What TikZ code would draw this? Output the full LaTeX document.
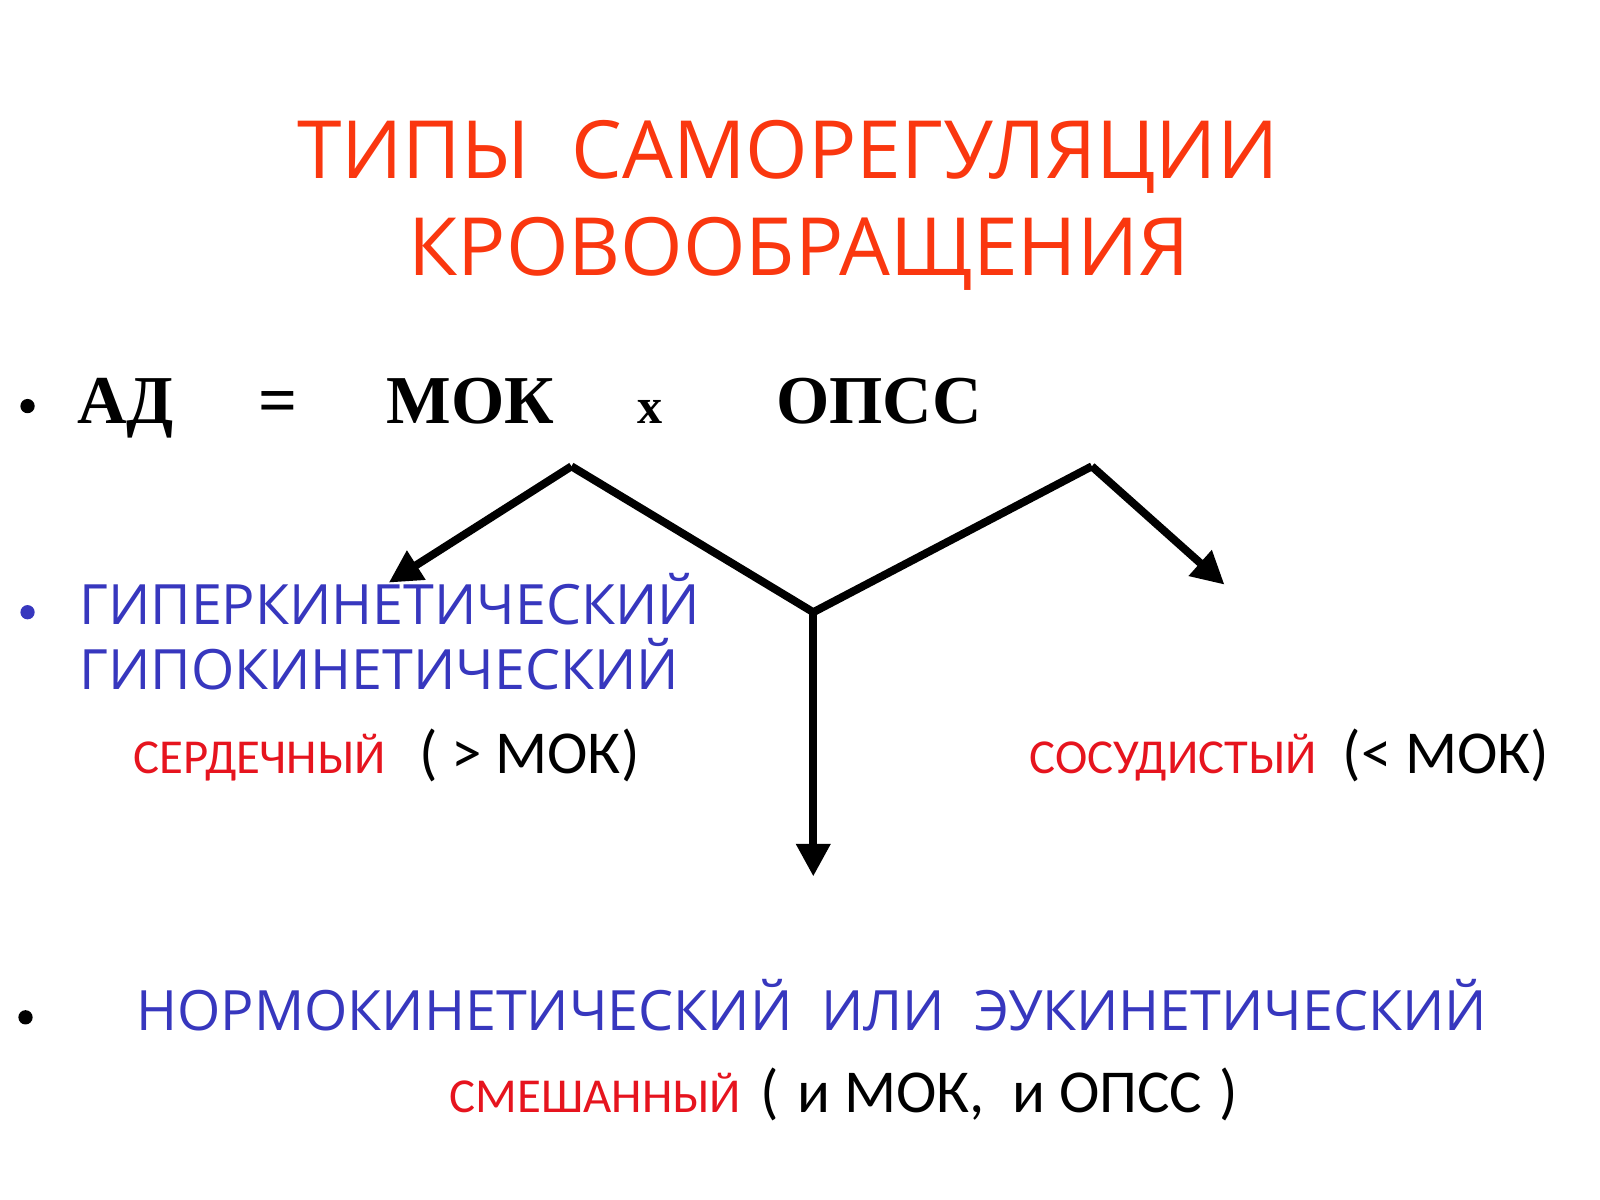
\documentclass[tikz,border=0pt]{standalone}
\usepackage{fontspec}
\setmainfont{Open Sans}
\newfontfamily\eqfont{Liberation Serif}
\newfontfamily\notefont{Carlito}
\usetikzlibrary{positioning, arrows.meta}

\definecolor{titlered}{RGB}{250,55,15}
\definecolor{typeblue}{RGB}{55,55,190}
\definecolor{kindred}{RGB}{230,20,30}

\begin{document}
\begin{tikzpicture}[
  % Text Styles
  titletext/.style={text=titlered, font=\fontsize{22.4pt}{26pt}\selectfont, inner sep=0pt, anchor=base},
  eqtext/.style={font=\eqfont\bfseries\fontsize{19.1pt}{23pt}\selectfont, inner sep=0pt, anchor=base west},
  typetext/.style={text=typeblue, font=\fontsize{15.5pt}{19pt}\selectfont, inner sep=0pt, anchor=base west},
  kindtext/.style={text=kindred, font=\notefont\fontsize{13.6pt}{17pt}\selectfont, inner sep=0pt, anchor=base west},
  parentext/.style={text=black, font=\notefont\fontsize{17pt}{20pt}\selectfont, inner sep=0pt, anchor=base west},
  % Bullets
  dotmark/.style={circle, fill=#1, inner sep=0pt, minimum size=0.14cm},
  % Arrow Styles
  thickline/.style={line width=0.078cm, black, line join=miter},
  thickarrow/.style={thickline, -{Triangle[length=0.32cm, width=0.32cm]}}
]
\useasboundingbox (0,0.24) rectangle (15.68,12);

% Title
\node[titletext] (title1) at (7.72,10.25) {ТИПЫ\ \ САМОРЕГУЛЯЦИИ};
\node[titletext] (title2) at (7.83,9.30) {КРОВООБРАЩЕНИЯ};

% Equation
\node[dotmark=black] (dot1) at (0.27,8.02) {};
\node[eqtext] (AD) at (0.75,7.85) {АД};
\node[eqtext, anchor=base] (eq) at (2.72,7.85) {=};
\node[eqtext] (MOK) at (3.78,7.85) {МОК};
\node[eqtext, anchor=base, font=\eqfont\bfseries\fontsize{14pt}{17pt}\selectfont] (times) at (6.37,7.85) {x};
\node[eqtext] (OPSS) at (7.60,7.85) {ОПСС};

% Branching lines
\coordinate (apexL) at (5.60,7.43);
\coordinate (join) at (7.97,6.00);
\coordinate (apexR) at (10.70,7.43);
\coordinate (tipL) at (3.81,6.29);
\coordinate (tipR) at (12.00,6.27);
\coordinate (tipD) at (7.97,3.41);
\draw[thickline] (apexL) -- (join) -- (apexR);
\draw[thickarrow] (apexL) -- (tipL);
\draw[thickarrow] (apexR) -- (tipR);
\draw[thickarrow] (join) -- (tipD);

% Cardiac and vascular types
\node[dotmark=typeblue] (dot2) at (0.27,6.00) {};
\node[typetext] (hyper) at (0.77,5.88) {ГИПЕРКИНЕТИЧЕСКИЙ};
\node[typetext] (hypo) at (0.77,5.24) {ГИПОКИНЕТИЧЕСКИЙ};
\node[kindtext] (cardiac) at (1.30,4.42) {СЕРДЕЧНЫЙ};
\node[parentext] (cardiacnote) at (4.10,4.42) {( > МОК)};
\node[kindtext] (vascular) at (10.08,4.42) {СОСУДИСТЫЙ};
\node[parentext] (vascularnote) at (13.15,4.42) {(< МОК)};

% Normokinetic type
\node[dotmark=black] (dot3) at (0.25,2.03) {};
\node[typetext] (normo) at (1.33,1.90) {НОРМОКИНЕТИЧЕСКИЙ\ \ ИЛИ\ \ ЭУКИНЕТИЧЕСКИЙ};
\node[kindtext] (mixed) at (4.40,1.10) {СМЕШАННЫЙ};
\node[parentext] (mixednote) at (7.45,1.10) {(\hspace{0.04cm} и МОК,\ \ и ОПСС\hspace{0.04cm} )};

\end{tikzpicture}
\end{document}
